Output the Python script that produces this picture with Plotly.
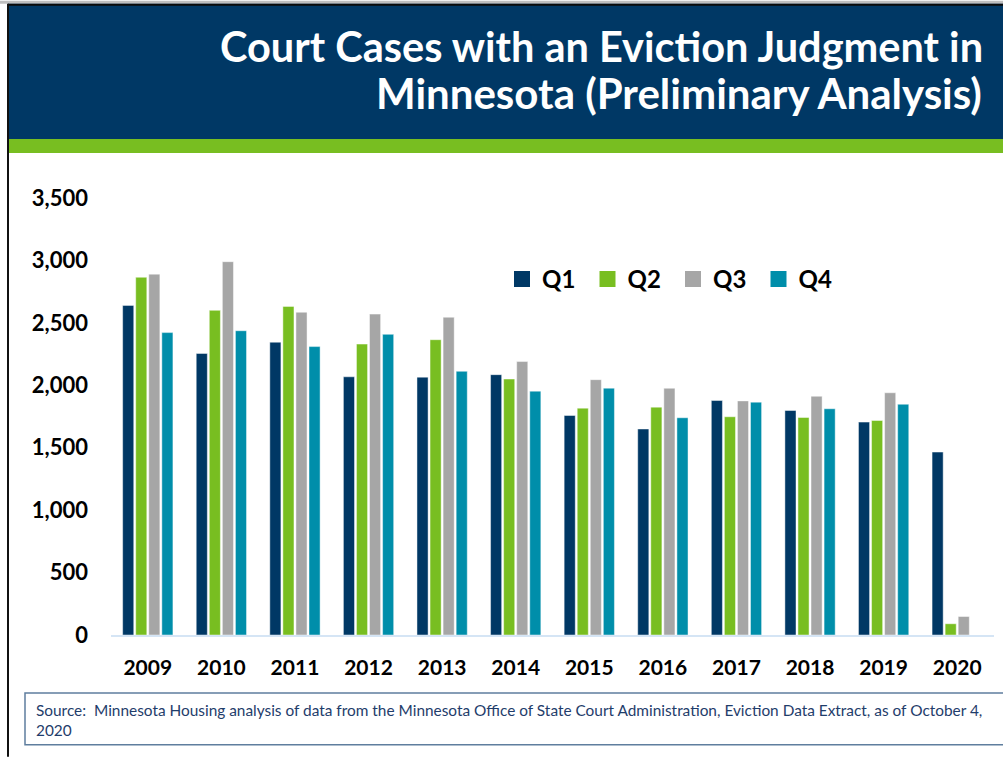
import plotly.graph_objects as go

years = ["2009", "2010", "2011", "2012", "2013", "2014", "2015", "2016", "2017", "2018", "2019", "2020"]
q1 = [2640, 2255, 2345, 2068, 2065, 2085, 1758, 1650, 1878, 1798, 1705, 1465]
q2 = [2865, 2600, 2632, 2330, 2365, 2050, 1817, 1825, 1748, 1742, 1718, 90]
q3 = [2890, 2990, 2585, 2570, 2545, 2190, 2045, 1976, 1875, 1912, 1940, 148]
q4 = [2422, 2437, 2310, 2408, 2112, 1953, 1977, 1740, 1865, 1812, 1848, None]
series_names = ["Q1", "Q2", "Q3", "Q4"]
series_colors = ["#003865", "#78BE21", "#A6A6A6", "#008EAA"]
y_ticks = [0, 500, 1000, 1500, 2000, 2500, 3000, 3500]

title_line1 = "Court Cases with an Eviction Judgment in"
title_line2 = "Minnesota (Preliminary Analysis)"
source_text = ("Source:  Minnesota Housing analysis of data from the Minnesota Office of State Court "
               "Administration, Eviction Data Extract, as of October 4,<br>2020")

FW, FH = 1003, 757
L, R, T, B = 111, 994, 197.5, 635
W, H = R - L, B - T

def fx(x):
    return (x - L) / W

def fy(y):
    return (B - y) / H

fig = go.Figure()
for name, vals, col in zip(series_names, [q1, q2, q3, q4], series_colors):
    fig.add_trace(go.Bar(
        x=years, y=vals, name=name, showlegend=False,
        marker=dict(color=col, line=dict(color="rgba(255,255,255,0.45)", width=1)),
    ))
# legend entries (square swatches)
for name, col in zip(series_names, series_colors):
    fig.add_trace(go.Scatter(
        x=[None], y=[None], mode="markers", name=name,
        marker=dict(symbol="square", size=16, color=col),
    ))

shapes = [
    dict(type="rect", xref="paper", yref="paper", x0=fx(0), x1=fx(FW), y0=fy(0), y1=fy(3),
         fillcolor="#BFBFBF", line=dict(width=0), layer="below"),
    dict(type="rect", xref="paper", yref="paper", x0=fx(8), x1=fx(FW), y0=fy(3), y1=fy(138.5),
         fillcolor="#003865", line=dict(width=0), layer="below"),
    dict(type="rect", xref="paper", yref="paper", x0=fx(8), x1=fx(FW), y0=fy(3), y1=fy(5),
         fillcolor="#0a0a0a", line=dict(width=0), layer="below"),
    dict(type="rect", xref="paper", yref="paper", x0=fx(8), x1=fx(FW), y0=fy(138.5), y1=fy(152.5),
         fillcolor="#78BE21", line=dict(width=0), layer="below"),
    dict(type="rect", xref="paper", yref="paper", x0=fx(7), x1=fx(9), y0=fy(3), y1=fy(FH),
         fillcolor="#111111", line=dict(width=0), layer="below"),
    dict(type="rect", xref="paper", yref="paper", x0=fx(25), x1=fx(FW + 10), y0=fy(693), y1=fy(745),
         fillcolor="rgba(0,0,0,0)", line=dict(color="#5F7E9E", width=1.5), layer="below"),
]

annotations = [
    dict(text=title_line1, xref="paper", yref="paper", x=fx(985), y=fy(45),
         xanchor="right", yanchor="middle", showarrow=False,
         font=dict(family="Lato", size=41.5, color="white", weight="bold")),
    dict(text=title_line2, xref="paper", yref="paper", x=fx(984), y=fy(92),
         xanchor="right", yanchor="middle", showarrow=False,
         font=dict(family="Lato", size=42, color="white", weight="bold")),
    dict(text=source_text, xref="paper", yref="paper", x=fx(34), y=fy(699),
         xanchor="left", yanchor="top", align="left", showarrow=False,
         font=dict(family="Lato", size=15.4, color="#1F3D6B")),
]

fig.update_layout(
    width=FW, height=FH,
    margin=dict(l=L, r=FW - R, t=T, b=FH - B, pad=0),
    paper_bgcolor="white", plot_bgcolor="white",
    barmode="group", bargap=0.29, bargroupgap=0.15,
    showlegend=True,
    legend=dict(orientation="h", x=fx(502), y=fy(279), xanchor="left", yanchor="middle",
                font=dict(family="Lato", size=24, color="black", weight="bold"),
                bgcolor="rgba(0,0,0,0)", entrywidth=40.5, entrywidthmode="pixels",
                itemsizing="trace", traceorder="normal"),
    shapes=shapes, annotations=annotations,
    xaxis=dict(showline=True, linecolor="#D5E5F5", linewidth=2, showgrid=False, ticks="",
               tickfont=dict(family="Lato", size=21, color="black", weight="bold"),
               ticklabelstandoff=13, fixedrange=True),
    yaxis=dict(range=[0, 3500], tickvals=y_ticks, tickformat=",", showgrid=False,
               zeroline=False, showline=False, ticks="",
               tickfont=dict(family="Lato", size=22, color="black", weight="bold"),
               ticklabelstandoff=22, fixedrange=True),
)

fig.write_html("out.html", config={"displayModeBar": False},
               post_script="document.body.style.margin='0';document.body.style.overflow='hidden';")
